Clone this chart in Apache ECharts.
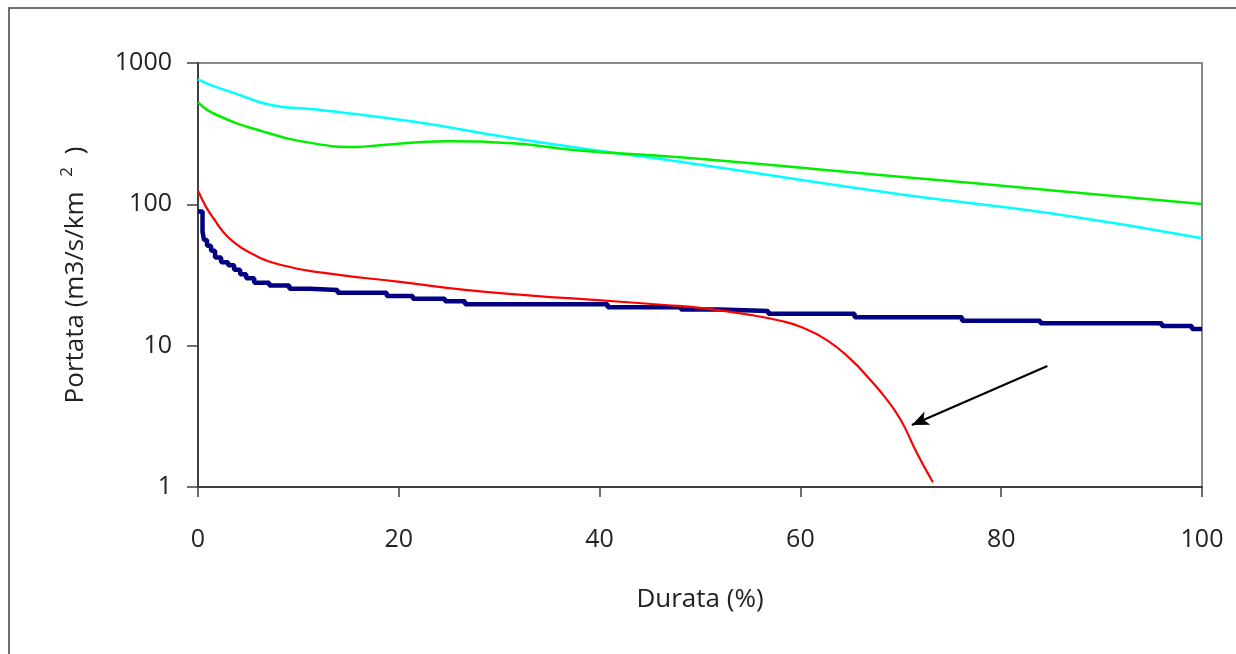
<!DOCTYPE html>
<html>
<head>
<meta charset="utf-8">
<title>Curve di durata delle portate</title>
<script src="https://cdn.jsdelivr.net/npm/echarts@6/dist/echarts.min.js"></script>
<style>
  html, body { margin: 0; padding: 0; background: #ffffff; }
  #chart { width: 1236px; height: 654px; }
</style>
</head>
<body>
<div id="chart"></div>
<script>
// Durata (%) tick values
const xTicks = [0, 20, 40, 60, 80, 100];
const yTicks = [1, 10, 100, 1000];

// Portata osservata: staircase, each pair is [durata di inizio, portata]
const osservataX = [0, 0.45, 0.6, 0.9, 1.3, 1.7, 2.3, 3.0, 3.6, 4.2, 4.8, 5.6, 7.1, 9.1, 11.1, 13.9,
  18.8, 21.4, 24.6, 26.6, 40.8, 48.1, 52.0, 56.8, 65.4, 76.1, 83.9, 96.0, 99.0, 100];
const osservataY = [89, 64, 56, 51, 47, 42, 39, 37, 34.5, 32, 30, 27.9, 26.6, 25.3, 24.8, 23.7,
  22.5, 21.5, 20.6, 19.6, 18.7, 18.0, 17.6, 16.8, 15.9, 15.0, 14.4, 13.8, 13.1, 13.1];

// Curva rossa (si annulla intorno al 73%)
const rossaX = [0, 0.8, 1.66, 2.5, 3.3, 5.0, 8.3, 13.3, 19.9, 26.6, 33.2, 39.8, 46.5, 50, 55, 58, 60,
  62.6, 65.1, 66.7, 68.4, 70, 71.6, 73.2];
const rossaY = [125, 96, 77.5, 64, 56, 46.2, 37.2, 32.2, 28.4, 24.8, 22.6, 21.0, 19.4, 18.5, 16.5, 15, 13.6,
  11, 7.9, 6.0, 4.34, 2.98, 1.74, 1.08];

// Curva azzurra
const azzurraX = [0, 1.5, 3.2, 7.5, 11.5, 21.4, 31.4, 41.4, 48, 69.9, 84.9, 100];
const azzurraY = [765, 688, 627, 500, 470, 385, 293, 232, 200, 118, 86.4, 57.5];

// Curva verde
const verdeX = [0, 1.5, 6.5, 11.5, 15.8, 18.1, 24.8, 31.4, 38, 48, 69.9, 84.9, 100];
const verdeY = [528, 441, 327, 270, 255, 262, 280, 270, 240, 215, 157, 126, 100.5];

// Freccia che indica il tratto finale della curva rossa: [durata, portata]
const frecciaDa = [84.6, 7.18];
const frecciaA = [71.1, 2.75];

const pairs = (xs, ys) => xs.map((x, i) => [x, ys[i]]);

const FONT = '"Open Sans", "Noto Sans", sans-serif';
const AXIS_COLOR = '#404040';
const TEXT_COLOR = '#222222';

const chart = echarts.init(document.getElementById('chart'), null, { renderer: 'canvas' });

chart.setOption({
  animation: false,
  backgroundColor: '#ffffff',
  graphic: [{
    type: 'rect',
    shape: { x: 9, y: 8, width: 1240, height: 660 },
    style: { fill: 'none', stroke: '#404040', lineWidth: 1.5 },
    z: 0
  }],
  grid: {
    left: 198, right: 34, top: 63, bottom: 167,
    show: true, borderColor: '#8a8a8a', borderWidth: 2, backgroundColor: 'transparent'
  },
  xAxis: {
    type: 'value',
    min: xTicks[0], max: xTicks[xTicks.length - 1], interval: 20,
    name: 'Durata (%)',
    nameLocation: 'middle',
    nameGap: 100,
    nameTextStyle: { fontFamily: FONT, fontSize: 26, color: TEXT_COLOR },
    axisLine: { show: true, lineStyle: { color: AXIS_COLOR, width: 2 } },
    axisTick: { show: true, inside: false, length: 10, lineStyle: { color: AXIS_COLOR, width: 1.5 } },
    axisLabel: { fontFamily: FONT, fontSize: 25, color: TEXT_COLOR, margin: 40 },
    splitLine: { show: false }
  },
  yAxis: {
    type: 'log',
    logBase: 10,
    min: yTicks[0], max: yTicks[yTicks.length - 1],
    name: '{t|Portata (m3/s/km }{s|2}{t| )}',
    nameLocation: 'middle',
    nameRotate: 90,
    nameGap: 106,
    nameTextStyle: {
      fontFamily: FONT, color: TEXT_COLOR,
      rich: {
        t: { fontFamily: FONT, fontSize: 26, color: TEXT_COLOR },
        s: { fontFamily: FONT, fontSize: 17, color: TEXT_COLOR, verticalAlign: 'top', padding: [0, 6, 16, 8] }
      }
    },
    axisLine: { show: true, lineStyle: { color: AXIS_COLOR, width: 2 } },
    axisTick: { show: true, inside: false, length: 11, lineStyle: { color: AXIS_COLOR, width: 1.5 } },
    axisLabel: {
      fontFamily: FONT, fontSize: 25, color: TEXT_COLOR, margin: 26,
      formatter: (v) => String(Math.round(v))
    },
    splitLine: { show: false },
    minorTick: { show: false }
  },
  series: [
    {
      name: 'Osservata',
      type: 'line',
      step: 'end',
      data: pairs(osservataX, osservataY),
      showSymbol: false,
      lineStyle: { color: '#000080', width: 4.5 },
      z: 3
    },
    {
      name: 'Rossa',
      type: 'line',
      smooth: 0.5,
      data: pairs(rossaX, rossaY),
      showSymbol: false,
      lineStyle: { color: '#ff0000', width: 2.2 },
      z: 4,
      markLine: {
        silent: true,
        symbol: ['none', 'arrow'],
        symbolSize: [11, 17],
        label: { show: false },
        lineStyle: { color: '#000000', width: 2.2, type: 'solid' },
        data: [[{ coord: frecciaDa }, { coord: frecciaA }]]
      }
    },
    {
      name: 'Azzurra',
      type: 'line',
      smooth: 0.5,
      data: pairs(azzurraX, azzurraY),
      showSymbol: false,
      lineStyle: { color: '#00ffff', width: 2.5 },
      z: 4
    },
    {
      name: 'Verde',
      type: 'line',
      smooth: 0.5,
      data: pairs(verdeX, verdeY),
      showSymbol: false,
      lineStyle: { color: '#00ee00', width: 2.5 },
      z: 4
    }
  ]
});
</script>
</body>
</html>
